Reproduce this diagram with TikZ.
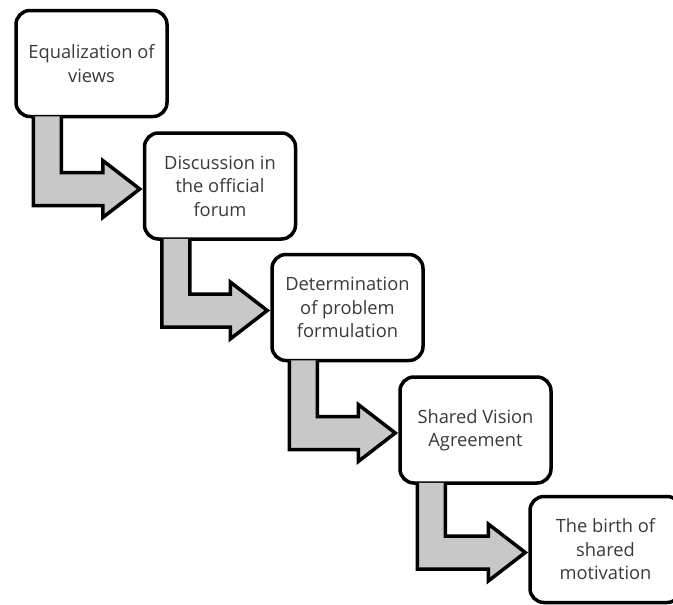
\documentclass[tikz,border=0pt]{standalone}
\usepackage{fontspec}
\setmainfont{Open Sans}
\usetikzlibrary{calc}
\definecolor{txtgray}{HTML}{3A3A3A}
\definecolor{arrowfill}{HTML}{C8C8C8}
\tikzset{
  stagebox/.style={draw=black, line width=3.5pt, fill=white, rounded corners=14pt,
    minimum width=151pt, minimum height=106pt, inner sep=0pt, align=center,
    text=txtgray, font=\fontsize{18.3}{23.5}\selectfont},
  bentarrow/.style={draw=black, line width=3.5pt, fill=arrowfill, line join=miter}
}
\begin{document}
\begin{tikzpicture}[x=1pt,y=-1pt]
\useasboundingbox (0,0) rectangle (673,605);
\clip (0,0) rectangle (673,605);
\node[stagebox] (b1) at (91.5,63.5) {Equalization of\\views};
\node[stagebox] (b2) at (220,186) {Discussion in\\the official\\forum};
\node[stagebox] (b3) at (347.5,307.5) {Determination\\of problem\\formulation};
\node[stagebox] (b4) at (475.5,430) {Shared Vision\\Agreement};
\node[stagebox] (b5) at (605.5,549.5) {The birth of\\shared\\motivation};
\foreach \a/\b in {b1/b2,b2/b3,b3/b4,b4/b5}{
  \coordinate (s) at (\a.south west);
  \coordinate (t) at (\b.west);
  \draw[bentarrow]
    ($(s)+(19,-2)$) --
    ($(s |- t)+(19,19.5)$) --
    ($(t)+(-40,19.5)$) --
    ($(t)+(-40,31.5)$) --
    ($(t)+(-3,3)$) --
    ($(t)+(-40,-25.5)$) --
    ($(t)+(-40,-13.5)$) --
    ($(s |- t)+(47,-13.5)$) --
    ($(s)+(47,-2)$);
}
\end{tikzpicture}
\end{document}
